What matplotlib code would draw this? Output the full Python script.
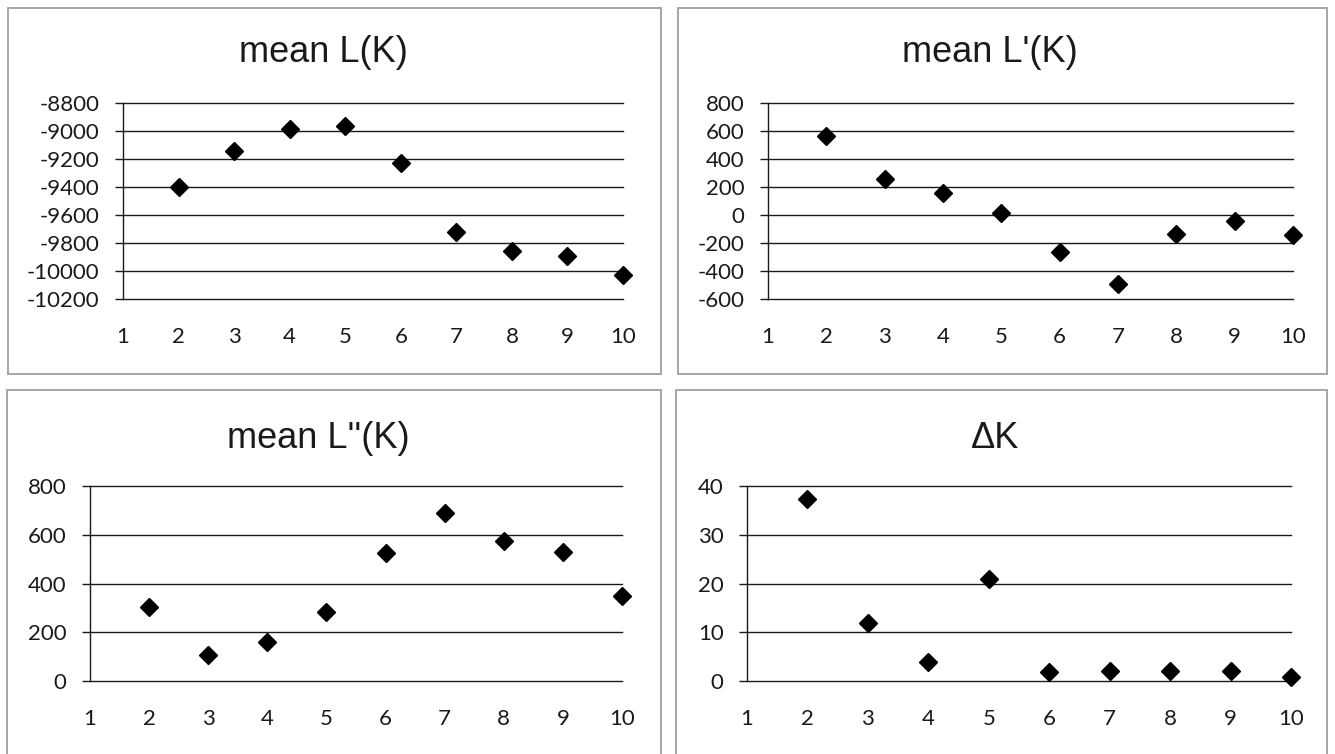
import matplotlib.pyplot as plt
from matplotlib.patches import Rectangle

plt.rcParams["axes.unicode_minus"] = False

# data
k = [2, 3, 4, 5, 6, 7, 8, 9, 10]
mean_L = [-9400, -9140, -8985, -8965, -9230, -9720, -9855, -9890, -10030]
mean_L1 = [565, 260, 155, 15, -265, -490, -135, -40, -140]
mean_L2 = [305, 105, 160, 285, 525, 690, 575, 530, 350]
delta_K = [37.3, 11.8, 3.8, 21.0, 1.9, 2.1, 2.1, 2.1, 0.9]

titles = ["mean L(K)", "mean L'(K)", "mean L''(K)", "\u0394K"]
ylims = [(-10200, -8800), (-600, 800), (0, 800), (0, 40)]
ysteps = [200, 200, 200, 10]
series = [mean_L, mean_L1, mean_L2, delta_K]

W, H = 1335, 754
fig = plt.figure(figsize=(W / 100, H / 100), dpi=100)
fig.patch.set_facecolor("white")


def px_box(l, t, r, b):
    return [l / W, 1 - b / H, (r - l) / W, (b - t) / H]


# panel frames, plot areas, title centres (pixels)
frames = [(8, 8, 661, 374), (678, 8, 1327, 374),
          (7, 390, 661, 760), (676, 390, 1327, 760)]
areas = [(123, 103, 623, 299), (768, 103, 1293, 299),
         (90, 486, 622, 681), (747, 486, 1291, 681)]
title_pos = [(323, 53), (990, 53), (318, 438), (995, 438)]

tick_font = ["Lato", "DejaVu Sans"]

for i in range(4):
    l, t, r, b = frames[i]
    fig.patches.append(Rectangle((l / W, 1 - b / H), (r - l) / W, (b - t) / H,
                                 transform=fig.transFigure, fill=False,
                                 edgecolor="#a6a6a6", linewidth=1.4))
    tx, ty = title_pos[i]
    fig.text(tx / W, 1 - ty / H, titles[i], ha="center", va="center",
             fontsize=26, family=["Liberation Sans", "DejaVu Sans"],
             color="#1a1a1a")

    ax = fig.add_axes(px_box(*areas[i]))
    lo, hi = ylims[i]
    ax.set_xlim(1, 10)
    ax.set_ylim(lo, hi)
    ax.set_xticks(range(1, 11))
    ax.set_yticks(range(lo, hi + 1, ysteps[i]))
    ax.grid(axis="y", color="#1a1a1a", linewidth=1.0)
    for gl in ax.get_ygridlines():
        gl.set_clip_on(False)
    ax.set_axisbelow(True)
    for s in ["top", "right", "bottom"]:
        ax.spines[s].set_visible(False)
    ax.spines["left"].set_linewidth(1.0)
    ax.spines["left"].set_color("#1a1a1a")
    ax.tick_params(axis="x", length=0, pad=20, labelsize=16,
                   labelcolor="#1a1a1a")
    ax.tick_params(axis="y", length=5.8, width=1.0, direction="out", pad=11,
                   labelsize=16, color="#1a1a1a", labelcolor="#1a1a1a")
    for lab in ax.get_xticklabels() + ax.get_yticklabels():
        lab.set_family(tick_font)
    ax.plot(k, series[i], linestyle="none", marker="D", markersize=9,
            color="black", clip_on=False, zorder=3)
    ax.set_facecolor("none")

fig.savefig("out.png", dpi=100)
